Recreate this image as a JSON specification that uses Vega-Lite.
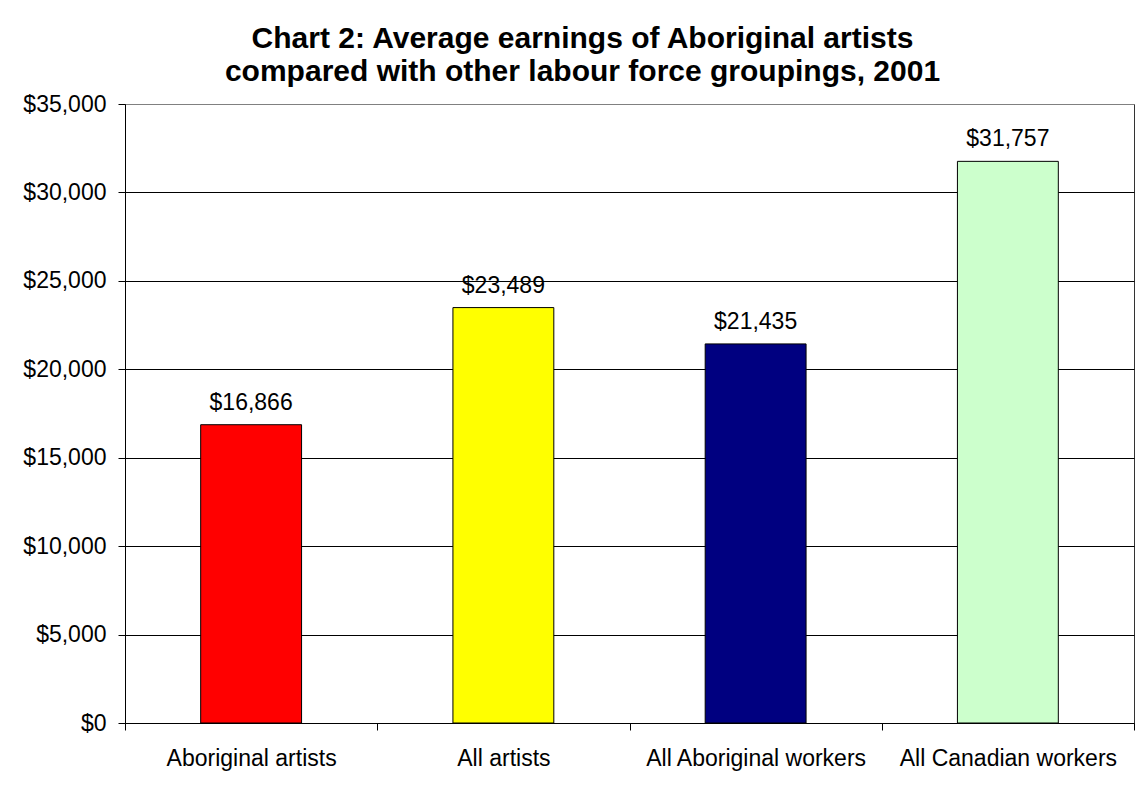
{
  "$schema": "https://vega.github.io/schema/vega-lite/v6.json",
  "width": 1009,
  "height": 619,
  "autosize": {"type": "none"},
  "padding": {"left": 125, "top": 104, "right": 11, "bottom": 72},
  "background": "white",
  "title": {
    "text": ["Chart 2: Average earnings of Aboriginal artists", "compared with other labour force groupings, 2001"],
    "anchor": "middle",
    "frame": "group",
    "dx": -47,
    "offset": 6,
    "font": "Liberation Sans",
    "fontSize": 30,
    "fontWeight": "bold",
    "color": "black",
    "lineHeight": 33
  },
  "data": {
    "values": [
      {"group": "Aboriginal artists", "earnings": 16866},
      {"group": "All artists", "earnings": 23489},
      {"group": "All Aboriginal workers", "earnings": 21435},
      {"group": "All Canadian workers", "earnings": 31757}
    ]
  },
  "encoding": {
    "x": {
      "field": "group",
      "type": "nominal",
      "sort": null,
      "scale": {"paddingInner": 0, "paddingOuter": 0},
      "axis": {
        "title": null,
        "tickBand": "extent",
        "labelAngle": 0,
        "labelFont": "Liberation Sans",
        "labelFontSize": 23,
        "labelColor": "black",
        "labelPadding": 17,
        "labelLimit": 0,
        "tickSize": 7,
        "tickColor": "black",
        "domainColor": "black",
        "grid": false
      }
    },
    "y": {
      "field": "earnings",
      "type": "quantitative",
      "scale": {"domain": [0, 35000], "nice": false, "zero": true},
      "axis": {
        "title": null,
        "values": [0, 5000, 10000, 15000, 20000, 25000, 30000, 35000],
        "format": "$,.0f",
        "grid": true,
        "gridColor": {"condition": {"test": "datum.value === 35000", "value": "#808080"}, "value": "black"},
        "gridOpacity": 1,
        "gridWidth": 1,
        "tickSize": 7,
        "tickColor": "black",
        "domainColor": "black",
        "labelPadding": 12,
        "labelFont": "Liberation Sans",
        "labelFontSize": 23,
        "labelColor": "black"
      }
    }
  },
  "layer": [
    {
      "mark": {"type": "bar", "width": {"band": 0.4}, "stroke": "black", "strokeWidth": 1},
      "encoding": {
        "color": {
          "field": "group",
          "type": "nominal",
          "scale": {
            "domain": ["Aboriginal artists", "All artists", "All Aboriginal workers", "All Canadian workers"],
            "range": ["#FF0000", "#FFFF00", "#000080", "#CCFFCC"]
          },
          "legend": null
        }
      }
    },
    {
      "mark": {"type": "text", "dy": -15, "baseline": "alphabetic", "font": "Liberation Sans", "fontSize": 23, "color": "black"},
      "encoding": {
        "text": {"field": "earnings", "type": "quantitative", "format": "$,.0f"}
      }
    }
  ],
  "config": {
    "view": {"stroke": "#333333", "strokeWidth": 1}
  }
}
